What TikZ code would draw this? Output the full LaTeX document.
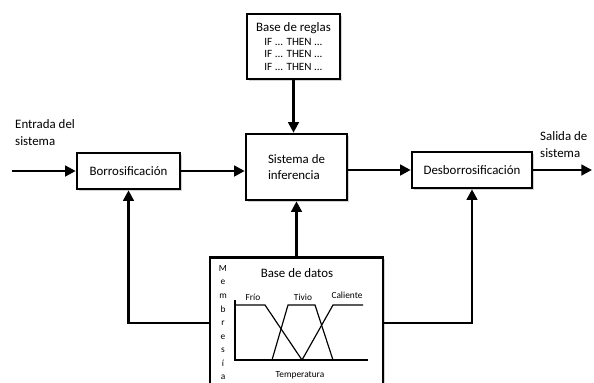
\documentclass[tikz,border=0pt]{standalone}
\usepackage{fontspec}
\setmainfont{Carlito}
\usetikzlibrary{positioning,calc,arrows.meta,shadows}

\tikzset{
  block/.style={draw,line width=2.2pt,fill=white,align=center,font=\fontsize{11}{13}\selectfont,
    drop shadow={shadow xshift=1.4pt,shadow yshift=-1.4pt,opacity=0.35}},
  flow/.style={line width=2.2pt,-{Triangle[length=9pt,width=9pt]}},
  curve/.style={line width=1pt},
}

\begin{document}
\begin{tikzpicture}[x=0.03cm,y=-0.03cm]
  \clip (0,0) rectangle (594,382);
  \useasboundingbox (0,0) rectangle (594,382);
  % Blocks
  \node[block,minimum width=3.09cm,minimum height=1.08cm] (borr) at (128.5,171) {Borrosificación};
  \node[block,minimum width=2.79cm,minimum height=1.95cm,inner sep=1pt] (reglas) at (293.5,46.5)
    {Base de reglas\\[-1pt]{\fontsize{9.5}{11.5}\selectfont IF ... THEN ...}\\[-2pt]
     {\fontsize{9.5}{11.5}\selectfont IF ... THEN ...}\\[-2pt]{\fontsize{9.5}{11.5}\selectfont IF ... THEN ...}};
  \node[block,minimum width=3.03cm,minimum height=1.98cm,align=left] (inf) at (296.5,167) {Sistema de\\inferencia};
  \node[block,minimum width=3.6cm,minimum height=1.08cm] (desb) at (472,170) {Desborrosificación};
  \node[block,minimum width=5.19cm,minimum height=4.5cm,anchor=north] (datos) at (296.5,256) {};
  % Free ends
  \coordinate (in) at (12,171);
  \coordinate (out) at (592,170);
  \path (datos.west |- {(0,323)}) coordinate (dl);
  \path (datos.east |- {(0,323)}) coordinate (dr);
  % Labels
  \node[anchor=north west,align=left,inner sep=0pt,font=\fontsize{11}{15}\selectfont] (entrada) at (15,119) {Entrada del\\sistema};
  \node[anchor=north west,align=left,inner sep=0pt,font=\fontsize{11}{15}\selectfont] (salida) at (540,131) {Salida de\\sistema};
  % Connectors
  \draw[flow] (in) -- (borr.west);
  \draw[flow] (borr.east) -- (borr.east -| inf.west);
  \draw[flow] (inf.east |- desb.west) -- (desb.west);
  \draw[flow] (desb.east) -- (out);
  \draw[flow] (reglas.south) -- (reglas.south |- inf.north);
  \draw[flow] (datos.north) -- (inf.south);
  \draw[flow] (dl) -| (borr.south);
  \draw[flow] (dr) -| (desb.south);
  % Membership plot
  \node[font=\fontsize{11}{13}\selectfont] (titulo) at (297,273) {Base de datos};
  \node[anchor=north,align=center,inner sep=0pt,font=\fontsize{8}{11.6}\selectfont] (memb) at (223,265)
    {M\\e\\m\\b\\r\\e\\s\\í\\a};
  \draw[curve] (235,300) -- (235,360) -- (368,360);
  \draw[curve] (235,305) -- (265,305) -- (302,360);
  \draw[curve] (272,360) -- (288,305) -- (315,305) -- (333,360);
  \draw[curve] (302,360) -- (333,305) -- (363,305);
  \node[font=\fontsize{8}{10}\selectfont] (frio) at (253,297) {Frío};
  \node[font=\fontsize{8}{10}\selectfont] (tivio) at (303,297) {Tivio};
  \node[font=\fontsize{8}{10}\selectfont] (cal) at (347,295) {Caliente};
  \node[font=\fontsize{8}{10}\selectfont] (temp) at (300,375) {Temperatura};
\end{tikzpicture}
\end{document}
